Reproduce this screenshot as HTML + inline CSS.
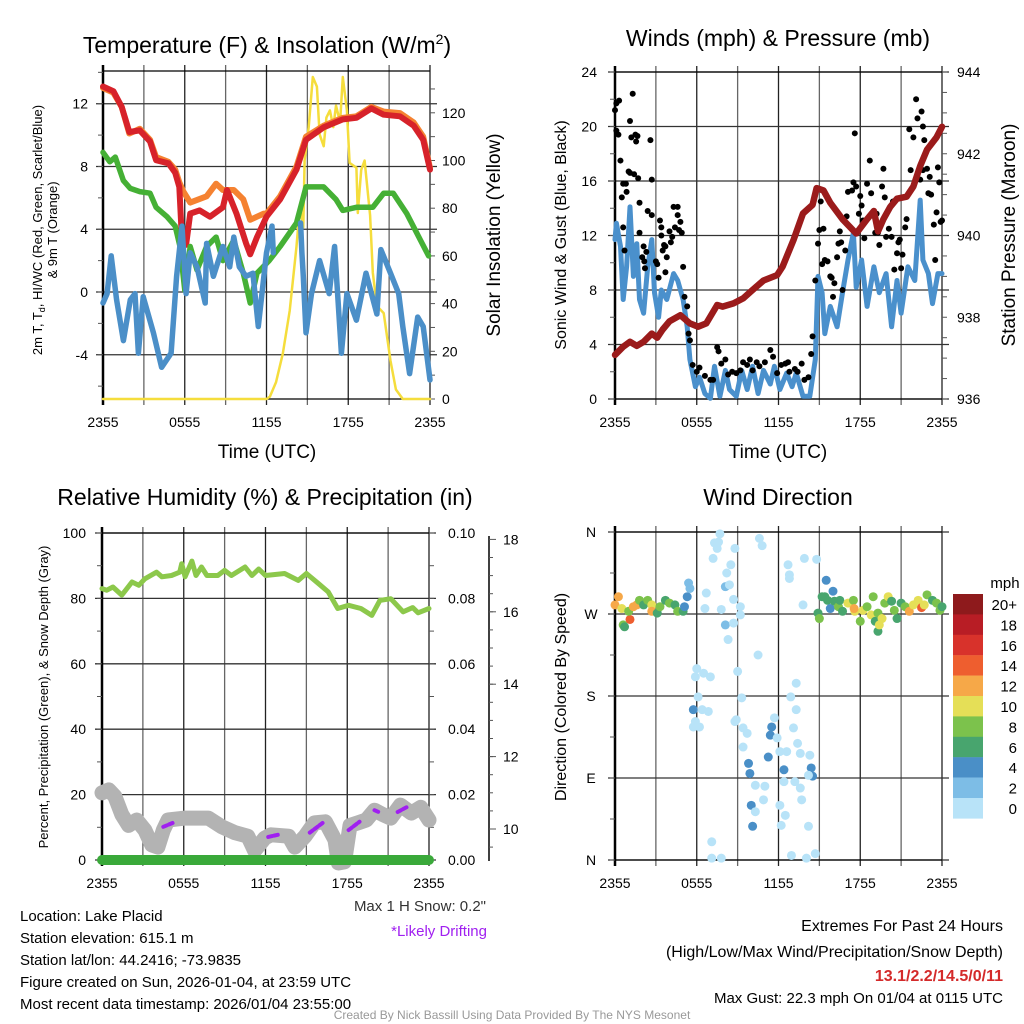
<!DOCTYPE html>
<html><head><meta charset="utf-8"><style>
html,body{margin:0;padding:0;background:#fff}
svg{display:block;font-family:"Liberation Sans",Arial,sans-serif}
</style></head><body>
<svg id="c" width="1024" height="1024" viewBox="0 0 1024 1024">
<g id="static">
<text x="267" y="53" font-size="23" text-anchor="middle">Temperature (F) &amp; Insolation (W/m<tspan font-size="14" dy="-9">2</tspan><tspan dy="9">)</tspan></text>
<text x="778" y="46" font-size="23" text-anchor="middle">Winds (mph) &amp; Pressure (mb)</text>
<text x="265" y="505" font-size="23" text-anchor="middle">Relative Humidity (%) &amp; Precipitation (in)</text>
<text x="778" y="505" font-size="23" text-anchor="middle">Wind Direction</text>
<text x="267" y="458" font-size="19" text-anchor="middle">Time (UTC)</text>
<text x="778" y="458" font-size="19" text-anchor="middle">Time (UTC)</text>
<text transform="translate(42,230) rotate(-90)" font-size="13" text-anchor="middle">2m T, T<tspan font-size="9" dy="3">d</tspan><tspan dy="-3">, HI/WC (Red, Green, Scarlet/Blue)</tspan></text>
<text transform="translate(57,230) rotate(-90)" font-size="13" text-anchor="middle">&amp; 9m T (Orange)</text>
<text transform="translate(500,235) rotate(-90)" font-size="19" text-anchor="middle">Solar Insolation (Yellow)</text>
<text transform="translate(566,235) rotate(-90)" font-size="16" text-anchor="middle">Sonic Wind &amp; Gust (Blue, Black)</text>
<text transform="translate(1015,235) rotate(-90)" font-size="19" text-anchor="middle">Station Pressure (Maroon)</text>
<text transform="translate(48,697) rotate(-90)" font-size="13" text-anchor="middle">Percent, Precipitation (Green), &amp; Snow Depth (Gray)</text>
<text transform="translate(566,697) rotate(-90)" font-size="16" text-anchor="middle">Direction (Colored By Speed)</text>
<text x="1005" y="588" font-size="15" text-anchor="middle">mph</text>
<g font-size="15">
<text x="20" y="921">Location: Lake Placid</text>
<text x="20" y="943">Station elevation: 615.1 m</text>
<text x="20" y="965">Station lat/lon: 44.2416; -73.9835</text>
<text x="20" y="987">Figure created on Sun, 2026-01-04, at 23:59 UTC</text>
<text x="20" y="1009">Most recent data timestamp: 2026/01/04 23:55:00</text>
</g>
<text x="486" y="911" font-size="15" text-anchor="end" fill="#333">Max 1 H Snow: 0.2"</text>
<text x="487" y="936" font-size="15" text-anchor="end" fill="#a020f0">*Likely Drifting</text>
<text x="1003" y="931" font-size="16" text-anchor="end">Extremes For Past 24 Hours</text>
<text x="1003" y="957" font-size="16" text-anchor="end">(High/Low/Max Wind/Precipitation/Snow Depth)</text>
<text x="1003" y="981" font-size="16" text-anchor="end" font-weight="bold" fill="#d42a2a">13.1/2.2/14.5/0/11</text>
<text x="1003" y="1003" font-size="15" text-anchor="end">Max Gust: 22.3 mph On 01/04 at 0115 UTC</text>
<text x="512" y="1019" font-size="12" text-anchor="middle" fill="#999">Created By Nick Bassill Using Data Provided By The NYS Mesonet</text>
</g>
</svg>
<script>
// ---- Temperature panel data ----
const redT=[0,0.76,1.37,1.93,2.7,3.45,3.9,4.8,5.3,5.6,5.8,6.1,6.4,7.1,7.85,8.8,9.1,9.8,10.5,10.8,11.3,12.0,13.0,14.2,14.9,16.2,17.6,18.6,19.7,20.6,21.8,22.8,23.5,24];
const redV=[13.1,12.8,11.8,10.2,10.3,9.6,8.4,8.2,7.6,6.7,3.3,3.0,5.0,5.2,4.8,5.4,6.5,5.0,3.1,2.4,3.5,4.8,5.9,7.8,9.7,10.5,11.0,11.1,11.7,11.3,11.2,10.6,9.7,7.8];
const oraT=[0,0.76,1.37,1.93,2.7,3.45,3.9,4.8,5.3,5.6,5.9,6.4,7.6,8.3,8.8,9.6,10.3,10.8,11.3,11.8,12.0,13.0,14.2,14.9,16.2,17.6,18.6,19.7,20.6,21.8,22.8,23.5,24];
const oraV=[13.0,12.7,11.8,10.1,10.4,9.7,8.6,8.3,7.8,7.0,6.4,5.7,6.1,6.9,6.5,6.5,5.9,4.6,4.8,5.0,5.0,6.1,8.0,9.9,10.6,11.1,11.2,11.8,11.5,11.4,10.8,9.9,7.9];
const grnT=[0,0.5,0.9,1.5,2.0,2.7,3.45,3.9,4.7,5.3,5.65,6.0,6.4,6.9,7.6,8.3,8.8,9.6,10.3,10.8,11.3,12.2,13.0,14.2,14.9,16.2,17.1,17.6,18.6,19.8,20.6,21.3,22.3,23.3,23.9];
const grnV=[8.9,8.3,8.6,7.1,6.6,6.4,6.3,5.4,4.8,4.2,2.9,0.1,2.9,1.4,2.9,3.5,2.0,3.3,1.2,-0.7,1.2,2.0,2.9,4.4,6.7,6.7,5.9,5.2,5.4,5.4,6.3,6.3,5.0,3.3,2.3];
const bluT=[0,0.3,0.6,1.0,1.5,2.0,2.35,2.6,2.95,3.7,4.3,5.0,5.4,5.8,6.1,6.4,6.9,7.5,7.6,8.1,8.8,9.3,9.6,10.0,10.5,11.0,11.4,12.0,12.4,12.5,13.5,14.5,14.6,14.7,14.9,15.3,15.9,16.6,17.0,17.5,17.9,18.6,19.3,20.1,20.4,21.1,21.7,22.0,22.5,23.1,23.5,24];
const bluV=[-0.7,-0.1,2.3,-0.5,-3.1,-0.5,-0.1,-3.9,-0.3,-2.6,-4.8,-3.9,1.0,4.2,-0.1,2.5,1.6,-0.7,3.1,1.0,2.9,1.6,3.5,1.6,1.0,1.2,-2.2,2.5,4.2,2.5,null,4.4,2.5,1.0,-2.6,-0.1,2.0,-0.1,2.9,-3.9,-0.1,-1.8,1.2,-1.4,2.7,1.2,-0.1,-2.2,-5.2,-1.6,-2.2,-5.6];
const solT=[0,12.0,12.25,12.7,13.2,13.7,14.2,14.45,14.7,14.8,15.1,15.4,15.7,15.9,16.2,16.4,16.65,16.9,17.1,17.4,17.6,17.9,18.1,18.6,18.7,18.95,19.2,19.6,19.8,20.1,20.6,21.1,21.5,22.0,24];
const solV=[0,0,1,7,19,37,64,81,72,100,114,135,131,111,106,118,121,114,123,116,135,121,99,97,78,96,100,77,53,39,36,16,4,0,0];
// ---- Wind panel data ----
const presT=[0,0.6,1.1,1.6,2.1,2.7,3.1,3.5,4.0,4.8,5.5,6.1,6.7,7.5,7.9,8.7,9.4,10.1,10.9,11.9,12.3,13.1,13.8,14.5,14.8,15.3,15.8,16.7,17.7,18.5,19.0,19.3,19.7,20.2,20.7,21.4,21.9,22.4,22.9,23.6,24];
const presV=[937.08,937.28,937.4,937.3,937.4,937.6,937.5,937.7,937.9,938.05,937.85,937.77,937.85,938.3,938.26,938.34,938.46,938.67,938.9,939.03,939.24,939.89,940.54,940.75,941.16,941.1,940.8,940.4,940.05,940.4,940.6,940.1,940.4,940.7,940.9,940.95,941.2,941.7,942.1,942.4,942.66];
const windT=[0,0.1,0.4,0.6,0.85,1.1,1.35,1.6,1.8,2.1,2.4,2.7,2.9,3.2,3.4,3.8,4.3,4.6,5.0,5.3,5.5,5.9,6.2,6.6,7.0,7.3,7.7,8.1,8.4,8.9,9.3,9.7,10.1,10.5,10.9,11.4,11.7,12.1,12.6,13.0,13.3,13.8,14.3,14.7,14.9,15.2,15.4,15.8,16.3,16.7,17.1,17.5,17.7,18.1,18.5,19.0,19.4,19.9,20.3,20.7,21.0,21.5,22.0,22.4,22.6,23.0,23.3,23.7,24];
const windV=[11.7,12.9,11.2,7.3,9.7,14.1,9.0,11.4,7.3,6.3,9.7,11.7,7.8,6.0,8.0,7.3,9.2,8.7,7.3,5.3,2.9,0.9,1.6,0.4,0.05,2.4,0.2,2.1,0.7,0.2,2.1,0.7,2.4,0.4,2.1,1.1,2.4,0.7,1.9,0.9,1.9,0.2,0.2,2.9,9.0,7.8,4.8,6.8,5.3,7.8,10.2,12.2,8.2,10.2,6.8,9.7,7.8,9.2,5.3,8.7,6.3,9.7,8.7,14.6,10.2,9.2,7.0,9.2,9.2];
const gustT=[0,0.1,0.3,0.1,0.25,0.4,0.5,0.6,0.7,0.6,0.8,0.85,1.0,1.1,1.1,1.2,1.3,1.5,1.55,1.65,1.4,1.7,1.8,1.8,2.0,2.1,2.15,2.2,2.3,2.4,2.6,2.7,2.7,3.0,3.1,3.2,3.3,3.4,3.4,3.5,3.6,3.7,3.7,3.8,4.0,4.1,4.2,4.3,4.4,4.6,4.6,4.8,4.9,4.7,5.0,5.1,5.3,5.4,5.5,5.7,6.0,6.2,6.6,7.0,7.2,7.5,7.6,7.8,8.1,8.3,8.6,8.9,9.2,9.4,9.7,9.9,10.1,10.4,10.6,11.0,11.4,11.6,11.9,12.2,12.5,12.7,12.8,13.2,13.4,13.7,13.9,14.2,14.4,14.5,14.7,14.9,15.0,15.1,15.3,15.2,15.4,15.6,15.8,15.9,16.0,16.1,16.3,16.4,16.5,16.6,16.7,16.9,17.0,17.1,17.4,17.6,17.5,17.7,17.9,18.0,18.1,18.2,18.3,18.5,18.7,18.8,19.0,19.1,19.2,19.3,19.4,19.6,19.7,19.8,19.9,20.1,20.3,20.4,20.5,20.7,20.8,20.9,21.0,21.1,21.3,21.4,21.6,21.7,21.9,22.1,22.2,22.4,22.5,22.6,22.7,22.6,22.9,23.0,23.1,23.2,23.4,23.5,23.6,23.7,23.8,23.9,24];
const gustV=[21.2,21.7,21.9,19.7,19.4,17.5,14.8,12.6,10.9,15.8,15.8,15.2,16.7,16.6,20.4,19.2,22.4,19.4,18.9,19.3,16.5,16.2,14.4,12.2,10.4,11.2,10.1,9.6,10.8,13.8,19.0,16.1,13.5,10.1,9.9,8.9,13.1,12.6,12.0,10.9,11.3,9.3,11.2,10.4,12.3,11.5,11.9,14.1,12.6,14.1,13.5,13.0,12.2,12.4,9.7,7.5,6.8,4.8,4.3,2.5,2.0,2.3,1.7,1.4,1.4,3.8,3.5,2.6,2.9,1.8,2.0,1.9,2.1,2.7,2.5,2.9,2.1,2.7,2.4,2.7,3.6,3.1,1.9,2.5,2.6,2.7,2.0,2.2,2.0,2.6,1.4,1.6,3.3,4.6,8.7,11.4,12.4,14.5,12.5,9.9,10.2,10.1,9.0,8.9,7.5,8.5,10.4,11.4,12.3,11.5,8.0,10.9,13.4,15.2,15.3,19.5,15.9,15.6,13.6,14.9,14.2,13.1,11.8,15.8,17.5,15.1,13.8,12.2,13.6,12.2,11.3,15.6,16.9,14.8,11.9,12.5,11.9,14.5,9.5,10.7,11.5,11.7,9.6,10.6,12.6,13.2,19.8,16.8,19.2,22.0,20.6,16.1,21.1,20.0,19.0,16.8,16.9,15.1,16.3,15.0,12.8,10.2,13.7,17.0,15.9,13.0,13.1];
// ---- Humidity panel data ----
const rhT=[0,0.35,0.8,1.45,2.2,2.7,3.15,4.0,4.4,5.1,5.7,5.85,6.1,6.6,6.9,7.3,7.7,8.5,9.0,9.5,10.5,11.0,11.5,12.0,13.4,14.4,15.0,15.9,16.6,17.3,18.1,19.0,19.8,20.4,21.2,22.1,22.8,23.2,24];
const rhV=[83.0,82.5,83.5,81,85,84,86,88,86.6,87,88,90.6,86.6,91.4,87,89.6,87,87,88.6,87,89.6,87,89,87,87.6,85.5,87.6,84.5,82,76.9,77.9,76.9,74.8,79.4,79.9,75.9,77.2,75.6,76.9];
const snowT=[0,0.5,0.95,1.45,1.95,2.55,3.15,3.65,4.1,4.5,4.85,6.1,7.8,8.8,9.75,10.7,11.2,11.95,12.4,13.7,14.15,14.9,15.6,16.4,17.1,17.35,17.8,18.2,18.8,19.4,20.0,20.6,21.2,21.9,22.7,23.4,24];
const snowV=[11.0,11.08,10.9,10.4,10.1,10.25,9.97,9.56,9.5,9.97,10.25,10.3,10.3,10.06,9.9,9.8,9.4,9.75,9.84,9.8,9.5,9.8,10.17,10.2,9.7,9.06,9.09,10.1,10.17,10.25,10.52,10.4,10.3,10.66,10.44,10.6,10.25];
const driftT0=[4.5,12.2,15.25,18.1,20.0,21.7];
const driftV0=[10.06,9.78,9.9,9.97,10.52,10.47];
const driftT1=[5.2,12.9,16.2,18.9,20.3,22.35];
const driftV1=[10.17,9.84,10.17,10.2,10.47,10.6];
const precipT=[0,24];
const precipV=[0,0];
// ---- Wind direction panel data ----
const dirT=[0,0.25,0.5,0.6,0.7,1.1,1.0,1.35,1.6,1.8,2.1,2.4,2.7,2.7,3.1,3.3,3.7,4.0,4.4,4.6,5.0,5.1,5.3,5.4,5.5,
6.6,6.7,7.2,7.3,7.5,7.7,7.6,7.8,8.1,8.1,8.2,8.3,8.4,8.5,8.7,8.7,8.8,9.2,9.2,10.5,10.6,10.8,13.8,13.9,14.8,12.7,12.8,12.8,
6.0,5.9,6.5,7.0,6.1,5.75,6.4,6.85,5.9,5.75,6.2,9.0,9.3,8.9,8.8,9.4,9.7,9.4,9.8,9.9,10.3,10.0,10.3,10.1,10.9,11.0,11.25,11.4,11.5,11.7,11.9,12.1,12.4,12.4,12.6,12.1,12.5,12.2,12.9,13.1,13.3,13.3,13.4,13.6,14.3,14.4,14.5,14.2,13.2,13.6,13.7,14.2,7.1,7.1,7.8,12.95,14.05,14.7,
14.9,15.0,15.2,15.4,15.5,15.6,15.8,16.0,16.1,16.4,16.5,16.7,17.1,17.5,17.6,17.55,18.0,18.2,18.5,18.95,18.8,19.1,19.3,19.3,19.4,19.6,19.8,20.05,20.3,20.5,20.7,21.0,21.3,21.6,21.9,22.25,22.5,22.7,22.9,23.3,23.6,23.85,24];
const dirV=[280,289,276,258,256,264,273,278,280,285,280,285,280,273,271,278,285,282,280,273,273,278,289,304,298,
276,293,331,348,342,358,349,275,258,300,315,242,302,324,260,286,342,278,269,225,353,345,280,331,330,324,313,309,
210,201,205,201,179,165,165,163,152,146,146,207,178,154,152,145,139,124,106,95,82,60,53,37,66,81,113,137,146,156,134,119,99,86,119,60,49,38,179,145,165,194,128,117,115,101,92,93,86,79,66,37,20,2,2,5,2,7,
271,265,289,289,307,285,276,295,284,278,285,273,282,285,273,276,262,274,278,289,269,262,271,251,258,265,282,289,284,274,265,282,278,273,280,285,277,280,291,285,282,274,278];
const dirS=[12,12,10,9,6,14,8,12,12,8,6,8,10,12,6,8,6,8,6,8,6,4,4,2,2,
1,1,1,1,1,1,1,1,2,2,1,1,1,1,1,1,1,1,1,1,1,1,1,1,1,1,1,1,
1,1,1,1,1,4,1,1,1,1,1,1,1,1,1,1,1,1,4,4,1,4,1,4,1,1,4,4,4,1,1,1,4,1,1,1,1,1,1,1,1,1,1,1,1,4,4,1,1,1,1,1,1,1,1,1,1,1,
6,8,6,6,4,6,4,4,6,8,6,6,10,8,10,12,8,10,8,8,10,6,8,6,10,10,8,10,6,8,6,6,8,12,10,10,14,10,8,6,8,8,6];
const cbLabels=["20+","18","16","14","12","10","8","6","4","2","0"];
const cbColors=["#8e1a1c","#b81d25","#d8322b","#ee5e2f","#f6a848","#e5df57","#7cc24c","#48a56e","#4a8fc7","#7dbde6","#b8e3f8"];

const NS="http://www.w3.org/2000/svg";
const svg=document.getElementById('c');
function mk(tag,attrs,parent){const e=document.createElementNS(NS,tag);for(const k in attrs)e.setAttribute(k,attrs[k]);(parent||svg).appendChild(e);return e;}
function panel(L,R,T,B){return {L,R,T,B,x:t=>L+t/24*(R-L)};}
const P1=panel(103,430,71,399),P2=panel(615,942,72,399),P3=panel(102,429,533,860),P4=panel(615,942,532,860);
const y1=v=>292-v*15.69, y1r=v=>399-v*2.385;
const y2=v=>399-v*13.625, y2r=v=>399-(v-936)*40.875;
const y3=v=>860-v*3.27, y3r=v=>860-v*3270, y3s=v=>829-(v-10)*36.2;
const y4=v=>860-v*328/360;

function frame(P,name,hTicks){
  const g=mk('g',{});
  
  
  for(let i=0;i<=8;i++){const x=P.L+i*(P.R-P.L)/8;mk('line',{x1:x,x2:x,y1:P.T-6,y2:P.B+6,stroke:i%2?'#666':'#222','stroke-width':1.3},g);}
  hTicks.forEach(y=>mk('line',{x1:P.L-7,x2:P.R+7,y1:y,y2:y,stroke:'#333','stroke-width':1.3},g));
  mk('line',{x1:P.L,x2:P.L,y1:P.T-6,y2:P.B+6,stroke:'#000','stroke-width':2.5},g);
  mk('line',{x1:P.L,x2:P.R,y1:P.T,y2:P.T,stroke:'#000','stroke-width':1.3},g);
  mk('line',{x1:P.L,x2:P.R,y1:P.B,y2:P.B,stroke:'#000','stroke-width':1.3},g);
  const xl=["2355","0555","1155","1755","2355"];
  xl.forEach((s,i)=>{const t=mk('text',{x:P.x(i*6),y:P.B+28,'font-size':14,'text-anchor':'middle'},g);t.textContent=s;});
  return g;
}
function labels(vals,yf,x,anchor,fmt,g){vals.forEach(v=>{const t=mk('text',{x:x,y:yf(v)+5,'font-size':14,'text-anchor':anchor},g);t.textContent=fmt?fmt(v):v;});}
function minor(vals,yf,x,len,g){vals.forEach(v=>mk('line',{x1:x,x2:x+len,y1:yf(v),y2:yf(v),stroke:'#555','stroke-width':1},g));}
function line(T,V,xf,yf,color,w,name){
  let d='',pen=false;
  T.forEach((t,i)=>{const v=V[i];if(v===null||v===undefined){pen=false;return;}d+=(pen?'L':'M')+xf(t).toFixed(1)+' '+yf(v).toFixed(1);pen=true;});
  const p=mk('path',{d:d,fill:'none',stroke:color,'stroke-width':w,'stroke-linejoin':'round','stroke-linecap':'round'});
  
  
  return p;
}
function range(a,b,s){const r=[];for(let v=a;v<=b+1e-9;v+=s)r.push(+v.toFixed(4));return r;}

// Panel 1
let g=frame(P1,'temperature',[-4,0,4,8,12].map(y1));
labels([-4,0,4,8,12],y1,88,'end',null,g);
minor(range(-6,14,2),y1,P1.L-5,5,g);
labels(range(0,120,20),y1r,442,'start',null,g);
minor(range(0,130,10),y1r,P1.R,5,g);
line(solT,solV,P1.x,y1r,'#f5dd3c',2.5,'insolation-line');
line(oraT,oraV,P1.x,y1,'#f58231',6,'9m-temperature-line');
line(redT,redV,P1.x,y1,'#d7222a',6,'2m-temperature-line');
line(grnT,grnV,P1.x,y1,'#45b035',5.5,'dewpoint-line');
line(bluT,bluV,P1.x,y1,'#4b8fc8',5.5,'wind-chill-line');

// Panel 2
g=frame(P2,'winds',range(0,24,4).map(y2));
labels(range(0,24,4),y2,597,'end',null,g);
minor(range(0,24,2),y2,P2.L-5,5,g);
labels(range(936,944,2),y2r,957,'start',null,g);
minor(range(936,944,0.5),y2r,P2.R,5,g);
line(windT,windV,P2.x,y2,'#4a90cc',5,'sonic-wind-line');
gustT.forEach((t,i)=>{const c=mk('circle',{cx:P2.x(t),cy:y2(gustV[i]),r:3,fill:'#000'});

});
line(presT,presV,P2.x,y2r,'#9b1b1b',6.5,'pressure-line');

// Panel 3
g=frame(P3,'humidity',range(0,100,20).map(y3));
labels(range(0,100,20),y3,86,'end',null,g);
minor(range(0,100,10),y3,P3.L-5,5,g);
labels(range(0,0.1,0.02),y3r,448,'start',v=>v.toFixed(2),g);
minor(range(0,0.1,0.01),y3r,P3.R,5,g);
mk('line',{x1:489,x2:489,y1:536,y2:861,stroke:'#000','stroke-width':1.5},g);
labels(range(10,18,2),y3s,503,'start',null,g);
minor(range(10,18,2),y3s,489,7,g);
minor(range(9.5,17.5,0.5),y3s,489,4,g);
line(rhT,rhV,P3.x,y3,'#8cc84b',5,'relative-humidity-line');
line(snowT,snowV,P3.x,y3s,'#b3b3b3',15,'snow-depth-line');
driftT0.forEach((t,i)=>{const l=mk('line',{x1:P3.x(t),y1:y3s(driftV0[i]),x2:P3.x(driftT1[i]),y2:y3s(driftV1[i]),stroke:'#a020f0','stroke-width':4,'stroke-linecap':'round','stroke-dasharray':'4 2'});

});
line(precipT,precipV,P3.x,y3r,'#3aa93a',10,'precipitation-line');

// Panel 4
g=frame(P4,'wind-direction',[0,90,180,270,360].map(y4));
['N','E','S','W','N'].forEach((s,i)=>{const t=mk('text',{x:591,y:y4(i*90)+5,'font-size':14,'text-anchor':'middle'},g);t.textContent=s;});
minor(range(0,360,45),y4,P4.L-5,5,g);
dirT.forEach((t,i)=>{const bin=Math.min(10,Math.floor(dirS[i]/2));const c=mk('circle',{cx:P4.x(t),cy:y4(dirV[i]),r:4.5,fill:cbColors[10-bin]});

});
cbLabels.forEach((s,i)=>{const y=594+i*20.4;
const r=mk('rect',{x:953,y:y,width:30,height:20.6,fill:cbColors[i]});


const t=mk('text',{x:1017,y:y+16,'font-size':15,'text-anchor':'end'});t.textContent=s;

});
</script>
</body></html>
